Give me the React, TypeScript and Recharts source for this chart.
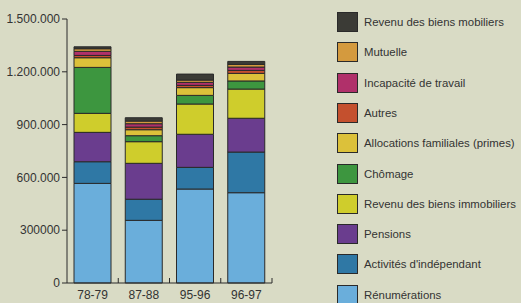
import React from 'react';
import { BarChart, Bar, XAxis, YAxis } from 'recharts';

const categories = ['78-79', '87-88', '95-96', '96-97'];

const renumerations = [566000, 356000, 534000, 513000];
const activites = [123000, 120000, 123000, 231000];
const pensions = [167000, 204000, 188000, 192000];
const revenuImmob = [108000, 123000, 172000, 166000];
const chomage = [261000, 34000, 49000, 46000];
const allocations = [55000, 34000, 44000, 43000];
const autres = [13000, 15000, 13000, 17000];
const incapacite = [23000, 19000, 17000, 19000];
const mutuelle = [15000, 15000, 13000, 15000];
const mobiliers = [11000, 19000, 34000, 17000];

const yTicks = [0, 300000, 600000, 900000, 1200000, 1500000];
const yTickLabels = ['0', '300000', '600.000', '900.000', '1.200.000', '1.500.000'];

const seriesNames = [
  'Rénumérations',
  "Activités d'indépendant",
  'Pensions',
  'Revenu des biens immobiliers',
  'Chômage',
  'Allocations familiales (primes)',
  'Autres',
  'Incapacité de travail',
  'Mutuelle',
  'Revenu des biens mobiliers',
];
const seriesValues = [
  renumerations, activites, pensions, revenuImmob, chomage,
  allocations, autres, incapacite, mutuelle, mobiliers,
];
const seriesColors = [
  '#6aaedb', '#2f78a5', '#6a3d8e', '#cfcd2c', '#3d963f',
  '#dcc13a', '#c4502e', '#b0306a', '#d49a3e', '#3b3b36',
];

const data = categories.map((c, i) => {
  const row: Record<string, string | number> = { cat: c };
  seriesNames.forEach((n, k) => { row['s' + k] = seriesValues[k][i]; });
  return row;
});

const W = 521;
const H = 303;
const YAXIS_W = 67;
const MARGIN = { top: 19, right: 249, bottom: 0, left: 0 };
const PLOT_W = W - YAXIS_W - MARGIN.right - MARGIN.left;
const BAND = PLOT_W / categories.length;
const FONT = '"Liberation Sans", Arial, Helvetica, sans-serif';
const INK = '#2a2a2a';

const XTick = (props: any) => {
  const { x, y, payload } = props;
  return (
    <g>
      <line x1={x + BAND / 2} x2={x + BAND / 2} y1={y} y2={y - 5} stroke={INK} strokeWidth={1} />
      <text x={x} y={y + 16} textAnchor="middle" fontSize={12} fill="#333" fontFamily={FONT}>
        {payload.value}
      </text>
    </g>
  );
};

const fmtY = (v: number) => {
  const i = yTicks.indexOf(v);
  return i >= 0 ? yTickLabels[i] : String(v);
};

export default function App() {
  const legendOrder = seriesNames.map((n, k) => k).reverse();
  return (
    <div style={{ position: 'absolute', left: 0, top: 0, width: W, height: H, background: '#d9dbc5', overflow: 'hidden', fontFamily: FONT }}>
      <BarChart width={W} height={H} data={data} margin={MARGIN} barSize={37}>
        <XAxis
          dataKey="cat"
          tickLine={false}
          tickSize={0}
          tickMargin={0}
          height={20}
          axisLine={{ stroke: INK, strokeWidth: 1 }}
          tick={<XTick />}
          interval={0}
        />
        <YAxis
          width={YAXIS_W}
          domain={[0, 1500000]}
          ticks={yTicks}
          tickFormatter={fmtY}
          tickSize={5}
          tickMargin={2}
          axisLine={{ stroke: INK, strokeWidth: 1 }}
          tickLine={{ stroke: INK, strokeWidth: 1 }}
          tick={{ fontSize: 12, fill: '#333', fontFamily: FONT }}
          interval={0}
        />
        {seriesNames.map((n, k) => (
          <Bar
            key={n}
            dataKey={'s' + k}
            name={n}
            stackId="a"
            fill={seriesColors[k]}
            stroke={INK}
            strokeWidth={1}
            isAnimationActive={false}
          />
        ))}
      </BarChart>
      <div style={{ position: 'absolute', left: 337, top: 12 }}>
        {legendOrder.map((k, i) => (
          <div key={k} style={{ position: 'absolute', left: 0, top: i * 30.3, display: 'flex', alignItems: 'center', whiteSpace: 'nowrap' }}>
            <div style={{ width: 19, height: 18, background: seriesColors[k], border: '1px solid ' + INK, boxSizing: 'content-box' }} />
            <span style={{ marginLeft: 6, fontSize: 11.4, color: '#333' }}>{seriesNames[k]}</span>
          </div>
        ))}
      </div>
    </div>
  );
}
